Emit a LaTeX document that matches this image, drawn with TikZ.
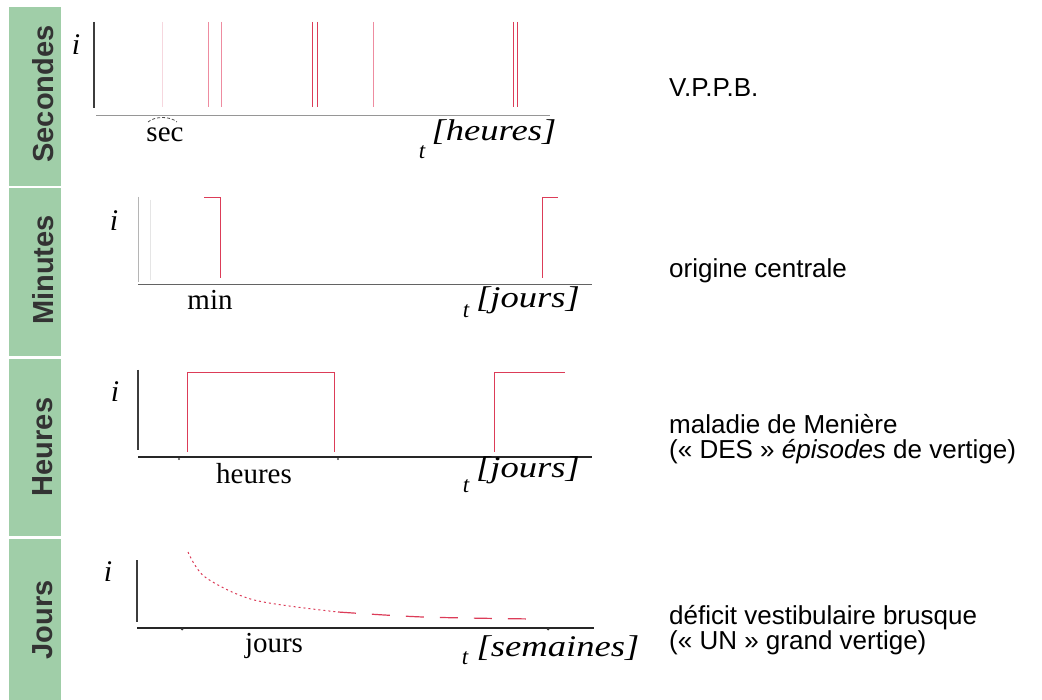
\documentclass[tikz,border=0pt]{standalone}
\usepackage{fontspec}
\usepackage{graphicx}
\setmainfont{Liberation Serif}
\setsansfont{Liberation Sans}
\definecolor{bandgreen}{RGB}{160,206,168}
\definecolor{labelgray}{RGB}{51,51,51}
\definecolor{pulsered}{RGB}{220,60,88}
\definecolor{pulsepink}{RGB}{238,140,160}
\definecolor{pulsefaint}{RGB}{246,215,222}
\definecolor{axisdark}{RGB}{60,60,60}
\definecolor{axislight}{RGB}{150,150,150}
\newcommand{\unittext}[1]{\scalebox{1.22}[1]{#1}}
\begin{document}
\begin{tikzpicture}[x=1pt,y=-1pt,
  band/.style={fill=bandgreen,draw=none},
  bandlabel/.style={rotate=90,font=\sffamily\bfseries\fontsize{29}{29}\selectfont,text=labelgray,inner sep=0pt},
  ilabel/.style={font=\itshape\fontsize{30}{30}\selectfont,inner sep=0pt},
  durlabel/.style={font=\fontsize{29}{29}\selectfont,inner sep=0pt},
  unitlabel/.style={font=\itshape\fontsize{30}{30}\selectfont,inner sep=0pt},
  tlabel/.style={font=\itshape\fontsize{23}{23}\selectfont,inner sep=0pt},
  desc/.style={font=\sffamily\fontsize{26}{26}\selectfont,anchor=base west,inner sep=0pt},
  axisd/.style={draw=axisdark,line width=1.2pt},
  axisl/.style={draw=axislight,line width=1pt},
  axisthick/.style={draw=black!85,line width=1.8pt},
  pulse/.style={draw=pulsered,line width=1.1pt},
  pulselight/.style={draw=pulsepink,line width=1.1pt},
  pulsefaintst/.style={draw=pulsefaint,line width=1pt}]
\useasboundingbox (0,0) rectangle (1042,700);
\fill[white] (0,0) rectangle (1042,700);
% green bands
\fill[band] (9,7) rectangle (61,186);
\fill[band] (9,188) rectangle (61,356);
\fill[band] (9,359) rectangle (61,536);
\fill[band] (9,539) rectangle (61,700);
\node[bandlabel] (bsec) at (43,94) {Secondes};
\node[bandlabel] (bmin) at (43,270) {Minutes};
\node[bandlabel] (bheu) at (43,447) {Heures};
\node[bandlabel] (bjou) at (43,620) {Jours};
% ---------- panel 1
\draw[axisd] (94,22) -- (94,108);
\draw[axisl] (96,116) -- (550,116);
\node[ilabel] (i1) at (76,45) {i};
\draw[pulsefaintst] (162.5,22) -- (162.5,107);
\draw[pulselight] (208.5,22) -- (208.5,107);
\draw[pulselight] (221.5,22) -- (221.5,107);
\draw[pulse] (312.5,22) -- (312.5,107);
\draw[pulse] (317.5,22) -- (317.5,107);
\draw[pulselight] (373.5,22) -- (373.5,107);
\draw[pulse] (513.5,22) -- (513.5,107);
\draw[pulse] (517.5,22) -- (517.5,107);
\draw[black!70,dash pattern=on 3pt off 2pt,line width=0.8pt] (148,122) .. controls (155,116) and (170,116) .. (177,122);
\node[durlabel] (sec) at (165,135) {sec};
\node[tlabel] (t1) at (422,152) {t};
\node[unitlabel] (u1) at (494,132) {\unittext{[heures]}};
% ---------- panel 2
\draw[draw=axislight!70,line width=0.8pt] (138.5,197) -- (138.5,282);
\draw[draw=black!10,line width=0.8pt] (150.5,200) -- (150.5,280);
\draw[draw=axisdark!80,line width=1pt] (138,284.5) -- (592,284.5);
\node[ilabel] (i2) at (114,221) {i};
\draw[pulse] (204,197.5) -- (220.5,197.5) -- (220.5,278);
\draw[pulse] (542.5,278) -- (542.5,197.5) -- (558,197.5);
\node[durlabel] (min) at (210,300) {min};
\node[tlabel] (t2) at (466,311) {t};
\node[unitlabel] (u2) at (528,300) {\unittext{[jours]}};
% ---------- panel 3
\draw[axisd] (138,370) -- (138,450);
\draw[axisthick] (138,457) -- (592,457);
\node[ilabel] (i3) at (115,392) {i};
\draw[pulse] (187.5,452) -- (187.5,372.5) -- (334.5,372.5) -- (334.5,452);
\draw[pulse] (494.5,452) -- (494.5,372.5) -- (565,372.5);
\fill[black!70] (179,459) circle (1.2);
\fill[black!70] (338,459) circle (1.2);
\node[durlabel] (heu) at (254,474) {heures};
\node[tlabel] (t3) at (466,486) {t};
\node[unitlabel] (u3) at (528,470) {\unittext{[jours]}};
% ---------- panel 4
\draw[axisd] (137,560) -- (137,622);
\draw[axisthick] (137,628) -- (594,628);
\node[ilabel] (i4) at (108,572) {i};
\draw[pulsered,line width=1pt,dash pattern=on 2pt off 3pt] plot[smooth] coordinates {(188,552) (205,577) (254,600) (338,612)};
\draw[pulsered,line width=1.2pt,dash pattern=on 18pt off 16pt] plot[smooth] coordinates {(338,612) (423,617) (533,619)};
\fill[black!80] (182,629) circle (1.5);
\fill[black!80] (548,629) circle (1.5);
\node[durlabel] (jou) at (274,646) {jours};
\node[tlabel] (t4) at (465,658) {t};
\node[unitlabel] (u4) at (558,648) {\unittext{[semaines]}};
% ---------- descriptions
\node[desc] (d1) at (669,97) {V.P.P.B.};
\node[desc] (d2) at (669,278) {origine centrale};
\node[desc] (d3) at (669,434) {maladie de Menière};
\node[desc] (d3b) at (669,459) {(« DES » \textit{épisodes} de vertige)};
\node[desc] (d4) at (669,624) {déficit vestibulaire brusque};
\node[desc] (d4b) at (669,649) {(« UN » grand vertige)};
\end{tikzpicture}
\end{document}
